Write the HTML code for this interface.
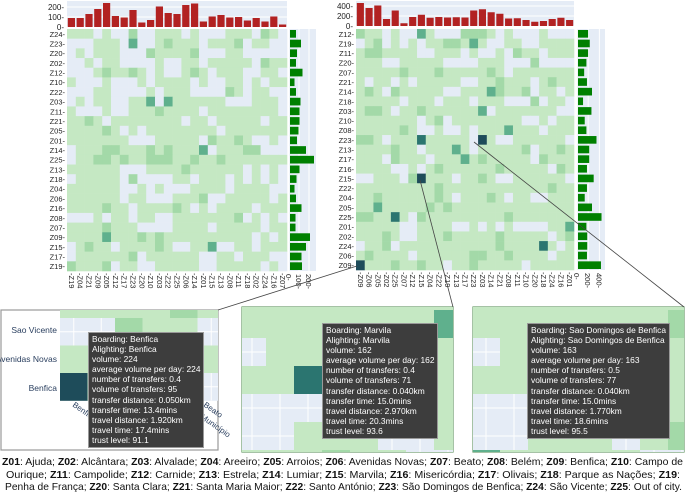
<!DOCTYPE html>
<html><head><meta charset="utf-8"><style>
body{margin:0;width:685px;height:490px;background:#fff;overflow:hidden;font-family:"Liberation Sans",sans-serif}
.tip{position:absolute;background:#3d3d3d;color:#fff;font-size:8.4px;line-height:10.1px;padding:1px 3px 2px 3px;border:1px solid #999;white-space:nowrap}
</style></head><body>
<svg id="chart" width="685" height="490" style="position:absolute;left:0;top:0"></svg>
<div class="tip" style="left:88px;top:332px">Boarding: Benfica<br>Alighting: Benfica<br>volume: 224<br>average volume per day: 224<br>number of transfers: 0.4<br>volume of transfers: 95<br>transfer distance: 0.050km<br>transfer time: 13.4mins<br>travel distance: 1.920km<br>travel time: 17.4mins<br>trust level: 91.1</div>
<div class="tip" style="left:322px;top:323px">Boarding: Marvila<br>Alighting: Marvila<br>volume: 162<br>average volume per day: 162<br>number of transfers: 0.4<br>volume of transfers: 71<br>transfer distance: 0.040km<br>transfer time: 15.0mins<br>travel distance: 2.970km<br>travel time: 20.3mins<br>trust level: 93.6</div>
<div class="tip" style="left:527px;top:323px">Boarding: Sao Domingos de Benfica<br>Alighting: Sao Domingos de Benfica<br>volume: 163<br>average volume per day: 163<br>number of transfers: 0.5<br>volume of transfers: 77<br>transfer distance: 0.040km<br>transfer time: 15.0mins<br>travel distance: 1.770km<br>travel time: 18.6mins<br>trust level: 95.5</div>
<svg width="685" height="40" style="position:absolute;left:0;top:453px" font-size="10.5" fill="#111">
<text x="2" y="12" textLength="681" lengthAdjust="spacingAndGlyphs"><tspan font-weight="bold">Z01</tspan>: Ajuda; <tspan font-weight="bold">Z02</tspan>: Alcântara; <tspan font-weight="bold">Z03</tspan>: Alvalade; <tspan font-weight="bold">Z04</tspan>: Areeiro; <tspan font-weight="bold">Z05</tspan>: Arroios; <tspan font-weight="bold">Z06</tspan>: Avenidas Novas; <tspan font-weight="bold">Z07</tspan>: Beato; <tspan font-weight="bold">Z08</tspan>: Belém; <tspan font-weight="bold">Z09</tspan>: Benfica; <tspan font-weight="bold">Z10</tspan>: Campo de</text>
<text x="6" y="25" textLength="674" lengthAdjust="spacingAndGlyphs">Ourique; <tspan font-weight="bold">Z11</tspan>: Campolide; <tspan font-weight="bold">Z12</tspan>: Carnide; <tspan font-weight="bold">Z13</tspan>: Estrela; <tspan font-weight="bold">Z14</tspan>: Lumiar; <tspan font-weight="bold">Z15</tspan>: Marvila; <tspan font-weight="bold">Z16</tspan>: Misericórdia; <tspan font-weight="bold">Z17</tspan>: Olivais; <tspan font-weight="bold">Z18</tspan>: Parque as Nações; <tspan font-weight="bold">Z19</tspan>:</text>
<text x="5" y="37" textLength="677" lengthAdjust="spacingAndGlyphs">Penha de França; <tspan font-weight="bold">Z20</tspan>: Santa Clara; <tspan font-weight="bold">Z21</tspan>: Santa Maria Maior; <tspan font-weight="bold">Z22</tspan>: Santo António; <tspan font-weight="bold">Z23</tspan>: São Domingos de Benfica; <tspan font-weight="bold">Z24</tspan>: São Vicente; <tspan font-weight="bold">Z25</tspan>: Out of city.</text>
</svg>
<script>
// ---- left panel data ----
const leftCols=["Z19","Z04","Z21","Z09","Z05","Z12","Z17","Z23","Z20","Z10","Z03","Z22","Z25","Z06","Z14","Z01","Z15","Z13","Z08","Z11","Z18","Z02","Z24","Z16","Z07"];
const leftRows=["Z24","Z23","Z20","Z02","Z12","Z10","Z22","Z03","Z11","Z21","Z05","Z01","Z14","Z25","Z13","Z18","Z04","Z06","Z16","Z08","Z07","Z09","Z15","Z17","Z19"];
const leftTop=[90,90,130,180,240,110,95,170,45,70,205,140,130,220,235,55,105,120,95,100,65,90,55,105,25];
const leftSide=[60,110,70,60,125,45,60,105,95,95,85,70,160,240,95,65,45,60,115,55,55,200,160,115,120];
const leftGrid=[
"1110100200111010001110210","0001110300121110111201100","0101110002111120001100000","0010110000100110111110211","0001211210100121011100110",
"1000100010111101001101011","0001100001011100002101100","0101100113031111110001110","1000100111211110111111110","1121011111111011011111011",
"1111210101111111101111111","1111111000111110211210010","0111221112121113011122000","0112212112221121121111111","1111110001111211111101010",
"0111110200001101110101010","1111110010100011110111100","1111110110001112001111101","1111211011112101011110111","0001011011001111111201010",
"1111211100001111011111011","1111311121211111111110101","0121101111210011300110111","0111111201111110011011100","2111201100111110011111010"];
// ---- right panel data ----
const rightCols=["Z09","Z06","Z05","Z02","Z25","Z07","Z12","Z15","Z04","Z22","Z19","Z13","Z17","Z23","Z03","Z14","Z21","Z08","Z11","Z10","Z20","Z18","Z24","Z16","Z01"];
const rightRows=["Z12","Z19","Z11","Z20","Z07","Z21","Z14","Z18","Z03","Z10","Z08","Z23","Z13","Z17","Z16","Z15","Z22","Z04","Z05","Z25","Z01","Z02","Z24","Z06","Z09"];
const rightTop=[460,360,410,140,310,55,180,225,165,180,170,175,170,310,335,275,245,150,155,120,85,100,140,165,120];
const rightSide=[180,210,180,150,110,160,250,90,240,120,150,330,200,200,160,280,160,120,250,420,150,165,165,160,410];
const rightGrid=[
"2110100310002221010001000","0120101011221310011001111","1221111001110100102110111","1110011111000011100020000",
"1111121112111112101111111","1011010111110011211101211","1210211111001113211201101","1111101110111011100020110",
"1221011211111130111111100","1111111012011111111001011","1111121001001011131110111","2210111411111051001111110",
"1111211011131011111201121","1110211101113121111102111","1111001012111111211111021","0011102511101121001111110",
"1111111112111111111111211","1121111112101112101100111","1131111121211111111111111","2211410211111111121111111",
"1111100111100101010000113","1112100111211111211111012","0112011111111111211114101","1211110111111221121111011","5111211211011211111011111"];
const ramp=["#e5ecf6","#c5e8c3","#a3d9a8","#5fb08d","#2b7570","#1e4c5a"];

const svg=document.getElementById('chart');
const NS="http://www.w3.org/2000/svg";
function mk(tag,attrs,parent){const e=document.createElementNS(NS,tag);for(const k in attrs)e.setAttribute(k,attrs[k]);(parent||svg).appendChild(e);return e;}

function panel(cfg){
  const g=mk('g',{});
  
  
  const n=cfg.cols.length, m=cfg.rows.length;
  const cw=(cfg.x1-cfg.x0)/n, ch=(cfg.y1-cfg.y0)/m;
  const xs=i=>cfg.x0+i*cw, ys=j=>cfg.y0+j*ch;
  mk('rect',{x:cfg.x0,y:cfg.ty0,width:cfg.x1-cfg.x0,height:cfg.ty1-cfg.ty0,fill:'#e5ecf6'},g);
  mk('rect',{x:cfg.sx0,y:cfg.y0,width:cfg.sx1-cfg.sx0,height:cfg.y1-cfg.y0,fill:'#e5ecf6'},g);
  for(let j=0;j<m;j++)for(let i=0;i<n;i++){
    const v=+cfg.grid[j][i];
    const r=mk('rect',{x:xs(i),y:ys(j),width:cw+0.3,height:ch+0.3,fill:ramp[v]},g);
    
    
  }
  const tyS=v=>cfg.ty1-v*(cfg.ty1-cfg.ty0-2)/cfg.tmax;
  cfg.tticks.forEach(t=>{const y=tyS(t);mk('line',{x1:cfg.x0,x2:cfg.x1,y1:y,y2:y,stroke:'#fff','stroke-width':1},g);
    const tx=mk('text',{x:cfg.x0-3,y:y+3,'font-size':8,'text-anchor':'end',fill:'#222'},g);tx.textContent=t+'-';});
  cfg.top.forEach((v,i)=>{const r=mk('rect',{x:xs(i)+0.8,y:tyS(v),width:cw-1.6,height:cfg.ty1-tyS(v),fill:'#b22222'},g);
    });
  const sxS=v=>cfg.sx0+v*cfg.sscale;
  cfg.sticks.forEach(t=>{const x=sxS(t);mk('line',{x1:x,x2:x,y1:cfg.y0,y2:cfg.y1,stroke:'#fff','stroke-width':1},g);
    const tx=mk('text',{x:x-3,y:cfg.y1+3,'font-size':7.5,fill:'#222',transform:`rotate(90 ${x-3} ${cfg.y1+3})`},g);tx.textContent=t+'-';});
  cfg.side.forEach((v,j)=>{const r=mk('rect',{x:cfg.sx0+1,y:ys(j)+1,width:sxS(v)-cfg.sx0,height:ch-2,fill:'#008000'},g);
    });
  cfg.rows.forEach((r,j)=>{const t=mk('text',{x:cfg.x0-2,y:ys(j)+ch/2+3,'font-size':7.5,'text-anchor':'end',fill:'#222'},g);t.textContent=r+'-';});
  cfg.cols.forEach((c,i)=>{const x=xs(i)+cw/2-2.5,y=cfg.y1+2;const t=mk('text',{x:x,y:y,'font-size':7.5,fill:'#222',transform:`rotate(90 ${x} ${y})`},g);t.textContent='-'+c;});
}
panel({name:'left-heatmap',cols:leftCols,rows:leftRows,grid:leftGrid,top:leftTop,side:leftSide,
  x0:67,x1:287,y0:29,y1:271,ty0:1,ty1:27,tmax:240,tticks:[0,100,200],sx0:289,sx1:316,sscale:0.1,sticks:[0,100,200]});
panel({name:'right-heatmap',cols:rightCols,rows:rightRows,grid:rightGrid,top:rightTop,side:rightSide,
  x0:356,x1:574,y0:29,y1:270,ty0:1,ty1:26,tmax:460,tticks:[0,200,400],sx0:577,sx1:605,sscale:0.056,sticks:[0,200,400]});

let clipId=0;
function detail(name,px,py,pw,ph,hx,hy,hw,hh,gx,gy,c,rows,frame){
  const g=mk('g',{});
  mk('rect',{x:px,y:py,width:pw,height:ph,fill:'#fff',stroke:frame,'stroke-width':1.2},g);
  const id='clip'+(clipId++);
  const cp=mk('clipPath',{id:id},g);mk('rect',{x:hx,y:hy,width:hw,height:hh},cp);
  const h=mk('g',{'clip-path':`url(#${id})`},g);
  rows.forEach((row,j)=>{[...row].forEach((v,i)=>{
    const x0=gx+i*c,y0=gy+j*c;
    mk('rect',{x:x0,y:y0,width:c+0.3,height:c+0.3,fill:ramp[+v]},h);
    if(+v===0){mk('line',{x1:x0+c/2,x2:x0+c/2,y1:y0,y2:y0+c,stroke:'#fff'},h);mk('line',{x1:x0,x2:x0+c,y1:y0+c/2,y2:y0+c/2,stroke:'#fff'},h);}
  });});
}
detail('detail-benfica',1,310,217,140,60,310,158,92,60,290.5,27.5,["11112111","00211001","11211111","51111001"],'#999');
detail('detail-marvila',242,307,211,145,242,307,211,145,238,282,28,["11111111","11111113","01111111","11411111","00011111","00111001","11121100"],'#6a9a6a');
detail('detail-sao-domingos',473,307,211,145,473,307,211,145,472,282,28,["11111111","11111112","01111111","11411111","00011111","00111012","31111100"],'#6a9a6a');
[['Sao Vicente',330],['Avenidas Novas',359],['Benfica',388]].forEach(([t,y])=>{const e=mk('text',{x:57,y:y+3,'font-size':8.5,'text-anchor':'end',fill:'#2a3f5f'});e.textContent=t;});
const b1=mk('text',{x:72,y:406,'font-size':8,fill:'#2a3f5f',transform:'rotate(35 72 406)'});b1.textContent='Benfica';
const b2=mk('text',{x:203,y:406,'font-size':8,fill:'#2a3f5f',transform:'rotate(35 203 406)'});b2.textContent='Beato';
const b3=mk('text',{x:200,y:418,'font-size':8,fill:'#2a3f5f',transform:'rotate(35 200 418)'});b3.textContent='Município';
[[218,310,357,266],[453,307,420,180],[684,307,474,142]].forEach(([a,b,c,d])=>mk('line',{x1:a,y1:b,x2:c,y2:d,stroke:'#444','stroke-width':0.8}));
</script>
</body></html>
